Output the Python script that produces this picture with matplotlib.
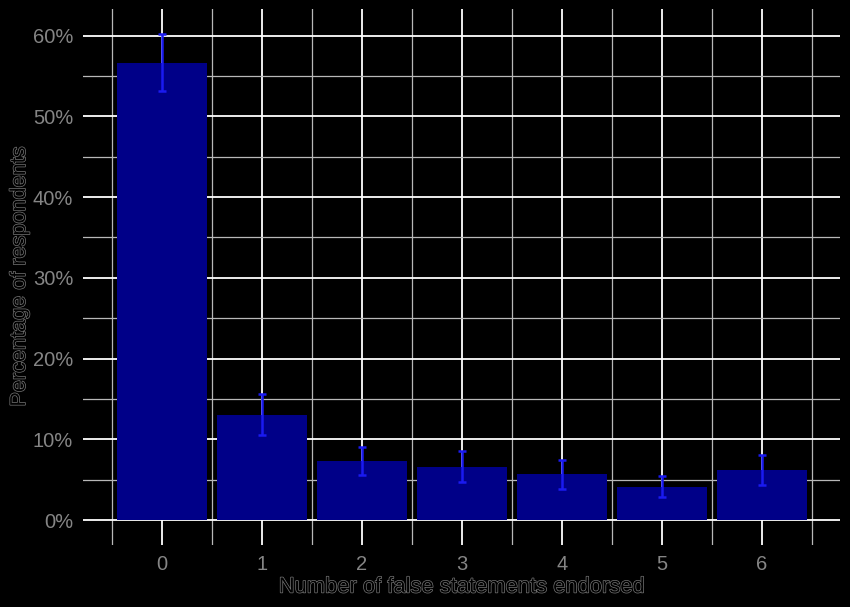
import numpy as np
import matplotlib.pyplot as plt
import matplotlib.patheffects as pe
from matplotlib.ticker import MultipleLocator, FuncFormatter

# Data
counts = [0, 1, 2, 3, 4, 5, 6]
pct = [56.6, 13.0, 7.3, 6.6, 5.7, 4.1, 6.2]
err_low = [53.1, 10.5, 5.6, 4.7, 3.9, 2.8, 4.3]
err_high = [60.2, 15.6, 9.1, 8.6, 7.4, 5.5, 8.0]

plt.rcParams['font.family'] = ['Liberation Sans', 'DejaVu Sans']

fig = plt.figure(figsize=(8.5, 6.07), dpi=100, facecolor='black')
ax = fig.add_axes([0.0976, 0.1021, 0.8906, 0.8830])
ax.set_facecolor('black')

pct = np.array(pct)
yerr = np.array([pct - np.array(err_low), np.array(err_high) - pct])

ax.bar(counts, pct, width=0.9, color='#000088', zorder=2)
ax.errorbar(counts, pct, yerr=yerr, fmt='none', ecolor='#1a1af0',
            elinewidth=1.8, capsize=3.0, capthick=1.8, zorder=3)

ax.set_xlim(-0.79, 6.78)
ax.set_ylim(-3.1, 63.3)
ax.xaxis.set_major_locator(MultipleLocator(1))
ax.xaxis.set_minor_locator(MultipleLocator(0.5))
ax.yaxis.set_major_locator(MultipleLocator(10))
ax.yaxis.set_minor_locator(MultipleLocator(5))
ax.yaxis.set_major_formatter(FuncFormatter(lambda v, p: f"{v:.0f}%"))

ax.grid(which='major', color='white', linewidth=1.3, zorder=0)
ax.grid(which='minor', color='#b8b8b8', linewidth=0.9, zorder=0)
ax.set_axisbelow(True)

for s in ax.spines.values():
    s.set_visible(False)
ax.tick_params(which='both', length=0, colors='#858585', labelsize=14.5)
ax.tick_params(axis='y', pad=7)
ax.tick_params(axis='x', pad=7)

outline = [pe.withStroke(linewidth=1.0, foreground='#777777')]
ax.set_xlabel('Number of false statements endorsed', fontsize=15.8,
              color='black', labelpad=2, path_effects=outline)
ax.set_ylabel('Percentage of respondents', fontsize=15.6,
              color='black', labelpad=2, path_effects=outline)

fig.savefig('out.png', dpi=100, facecolor='black')
